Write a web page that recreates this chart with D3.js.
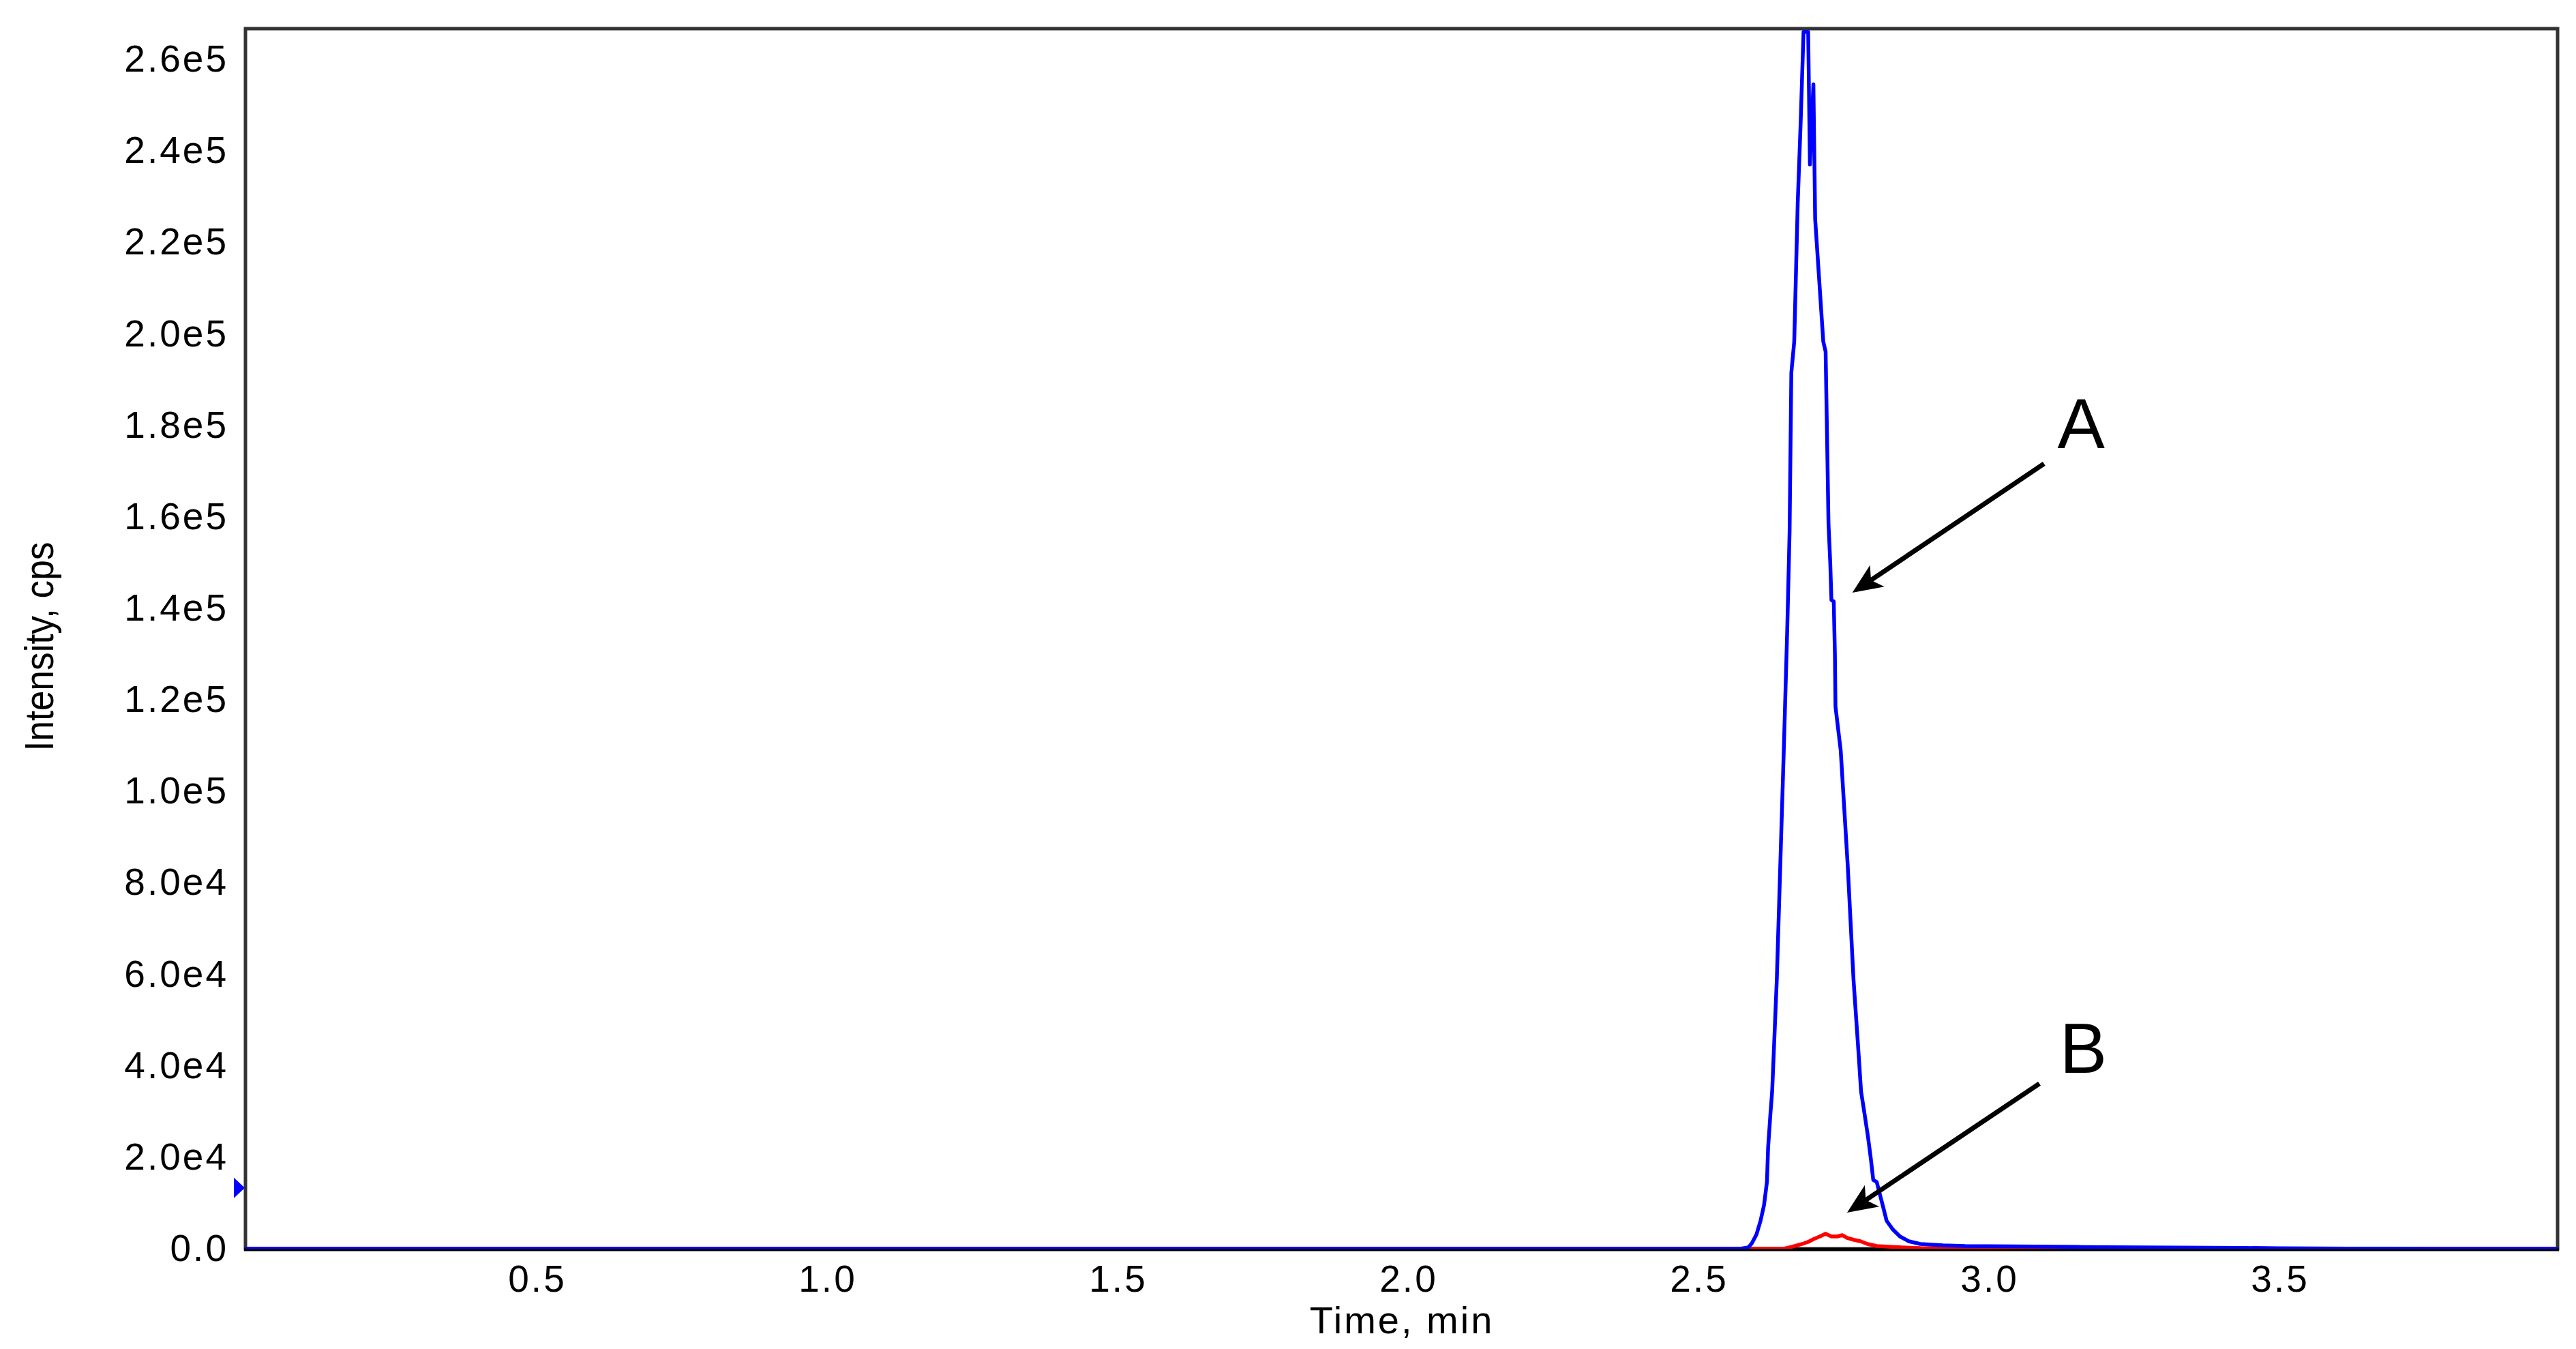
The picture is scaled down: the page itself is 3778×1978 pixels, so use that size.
<!DOCTYPE html>
<html>
<head>
<meta charset="utf-8">
<script src="https://cdn.jsdelivr.net/npm/d3@7"></script>
<style>
  html, body { margin: 0; padding: 0; background: #ffffff; }
  svg { display: block; }
  text { font-family: "Liberation Sans", Arial, Helvetica, sans-serif; }
</style>
</head>
<body>
<script>
// ---------------- DATA ----------------
// Trace A (blue)
const timeA = [0, 2.55, 2.573, 2.587, 2.593, 2.601, 2.608, 2.614, 2.619, 2.621,
  2.625, 2.628, 2.636, 2.642, 2.648, 2.654, 2.658, 2.661, 2.666, 2.672,
  2.677, 2.682, 2.690, 2.693, 2.699, 2.702, 2.716, 2.720, 2.722, 2.725,
  2.728, 2.730, 2.734, 2.736, 2.737, 2.746, 2.758, 2.768, 2.777, 2.781,
  2.787, 2.793, 2.798, 2.802, 2.808, 2.814, 2.820, 2.825, 2.836, 2.848,
  2.863, 2.883, 2.922, 2.960, 3.00, 3.04, 3.08, 3.12, 3.16, 3.20,
  3.26, 3.32, 3.38, 3.44, 3.50, 3.56, 3.62, 3.68, 3.75, 3.98];
const intensityA = [0, 0, 0, 300, 1190, 3130, 6110, 9540, 14600, 22050,
  29500, 34400, 58900, 83900, 108900, 135600, 156700, 191500, 198300, 228600,
  246000, 266000, 266000, 237000, 254500, 225100, 198300, 196100, 181200, 158400,
  149900, 141800, 141500, 129900, 118500, 108900, 83900, 58900, 42200, 34400,
  29500, 24440, 19520, 15050, 14600, 11600, 8640, 6110, 4170, 2680,
  1640, 1040, 750, 600, 560, 520, 480, 430, 390, 350,
  300, 260, 220, 180, 130, 90, 50, 20, 0, 0];

// Trace B (red)
const timeB = [0, 2.60, 2.648, 2.663, 2.683, 2.690, 2.699, 2.710, 2.720, 2.730,
  2.740, 2.749, 2.757, 2.769, 2.780, 2.792, 2.808, 2.828, 2.851, 2.883,
  2.95, 3.05, 3.10, 3.98];
const intensityB = [0, 0, 0, 450, 1190, 1500, 2090, 2680, 3280, 2680,
  2680, 2980, 2380, 1940, 1640, 1040, 600, 450, 300, 150,
  100, 60, 0, 0];

const xTickValues = [0.5, 1.0, 1.5, 2.0, 2.5, 3.0, 3.5];
const xTickLabels = ["0.5", "1.0", "1.5", "2.0", "2.5", "3.0", "3.5"];
const yTickValues = [0, 20000, 40000, 60000, 80000, 100000, 120000, 140000,
  160000, 180000, 200000, 220000, 240000, 260000];
const yTickLabels = ["0.0", "2.0e4", "4.0e4", "6.0e4", "8.0e4", "1.0e5", "1.2e5",
  "1.4e5", "1.6e5", "1.8e5", "2.0e5", "2.2e5", "2.4e5", "2.6e5"];

const xDomain = [0, 3.98];
const yDomain = [0, 266700];
const xTitle = "Time, min";
const yTitle = "Intensity, cps";

// threshold marker on the y axis (intensity)
const markerIntensity = 13300;

// annotations (time, intensity)
const annotationLabels = ["A", "B"];
const annotationTextAt = [[3.119, 175000], [3.123, 38460]];
const annotationTail = [[3.096, 171600], [3.088, 36100]];
const annotationTip = [[2.766, 143400], [2.757, 7900]];

// ---------------- LAYOUT ----------------
const W = 3778, H = 1978;
const plotLeft = 360, plotRight = 3751, plotTop = 42, plotBottom = 1831;

const svg = d3.select("body").append("svg")
  .attr("width", W).attr("height", H)
  .attr("viewBox", `0 0 ${W} ${H}`);

svg.append("rect").attr("width", W).attr("height", H).attr("fill", "#ffffff");

const x = d3.scaleLinear().domain(xDomain).range([plotLeft, plotRight]);
const y = d3.scaleLinear().domain(yDomain).range([plotBottom, plotTop]);

// clip
svg.append("defs").append("clipPath").attr("id", "plotClip")
  .append("rect")
  .attr("x", plotLeft).attr("y", plotTop - 3)
  .attr("width", plotRight - plotLeft).attr("height", plotBottom - plotTop + 3);

// frame
svg.append("rect")
  .attr("x", plotLeft).attr("y", plotTop)
  .attr("width", plotRight - plotLeft).attr("height", plotBottom - plotTop)
  .attr("fill", "none").attr("stroke", "#333333").attr("stroke-width", 5);
svg.append("line")
  .attr("x1", plotLeft - 2).attr("x2", plotRight + 2)
  .attr("y1", plotBottom + 1).attr("y2", plotBottom + 1)
  .attr("stroke", "#000000").attr("stroke-width", 5);

// axes (labels only)
const xAxis = d3.axisBottom(x).tickValues(xTickValues)
  .tickFormat((d, i) => xTickLabels[i]).tickSize(0).tickPadding(24);
const gx = svg.append("g").attr("transform", `translate(0,${plotBottom})`).call(xAxis);
gx.select(".domain").remove();
gx.selectAll("text").attr("font-size", 55).attr("fill", "#000")
  .attr("font-family", "'Liberation Sans', Arial, sans-serif")
  .style("letter-spacing", "3px").attr("dx", "1.5");

const yAxis = d3.axisLeft(y).tickValues(yTickValues)
  .tickFormat((d, i) => yTickLabels[i]).tickSize(0).tickPadding(25);
const gy = svg.append("g").attr("transform", `translate(${plotLeft},0)`).call(yAxis);
gy.select(".domain").remove();
gy.selectAll("text").attr("font-size", 55).attr("fill", "#000")
  .attr("font-family", "'Liberation Sans', Arial, sans-serif")
  .style("letter-spacing", "3px");

// axis titles
svg.append("text")
  .attr("x", 2056).attr("y", 1955)
  .attr("text-anchor", "middle")
  .attr("font-size", 56).attr("fill", "#000")
  .style("letter-spacing", "3px")
  .text(xTitle);
svg.append("text")
  .attr("transform", "translate(78,948) rotate(-90)")
  .attr("text-anchor", "middle")
  .attr("font-size", 60).attr("fill", "#000")
  .attr("textLength", 307).attr("lengthAdjust", "spacingAndGlyphs")
  .text(yTitle);

// traces
const line = d3.line().x(d => x(d[0])).y(d => y(d[1])).curve(d3.curveLinear);
const plotG = svg.append("g").attr("clip-path", "url(#plotClip)");
plotG.append("path")
  .datum(timeB.map((t, i) => [t, intensityB[i]]))
  .attr("d", line).attr("fill", "none")
  .attr("stroke", "#ff0000").attr("stroke-width", 5.5)
  .attr("stroke-linejoin", "round");
plotG.append("path")
  .datum(timeA.map((t, i) => [t, intensityA[i]]))
  .attr("d", line).attr("fill", "none")
  .attr("stroke", "#0000ff").attr("stroke-width", 5.5)
  .attr("stroke-linejoin", "round");

// marker triangle on y axis
const my = y(markerIntensity);
svg.append("path")
  .attr("d", `M${plotLeft - 17},${my - 15} L${plotLeft - 1},${my} L${plotLeft - 17},${my + 15} Z`)
  .attr("fill", "#0000ff");

// annotations
annotationLabels.forEach((lab, i) => {
  const tx = x(annotationTail[i][0]), ty = y(annotationTail[i][1]);
  const px = x(annotationTip[i][0]), py = y(annotationTip[i][1]);
  const dx = px - tx, dy = py - ty;
  const len = Math.hypot(dx, dy);
  const ux = dx / len, uy = dy / len;
  const nx = -uy, ny = ux;
  const headLen = 44, halfW = 19, notch = 33;
  const bx = px - ux * headLen, by = py - uy * headLen;
  const cx = px - ux * notch, cy = py - uy * notch;
  svg.append("line")
    .attr("x1", tx).attr("y1", ty)
    .attr("x2", cx).attr("y2", cy)
    .attr("stroke", "#000").attr("stroke-width", 7)
    .attr("stroke-linecap", "butt");
  svg.append("path")
    .attr("d", `M${px},${py} L${bx + nx * halfW},${by + ny * halfW} L${cx},${cy} L${bx - nx * halfW},${by - ny * halfW} Z`)
    .attr("fill", "#000");
  svg.append("text")
    .attr("x", x(annotationTextAt[i][0])).attr("y", y(annotationTextAt[i][1]))
    .attr("font-size", 104).attr("fill", "#000")
    .text(lab);
});
</script>
</body>
</html>
